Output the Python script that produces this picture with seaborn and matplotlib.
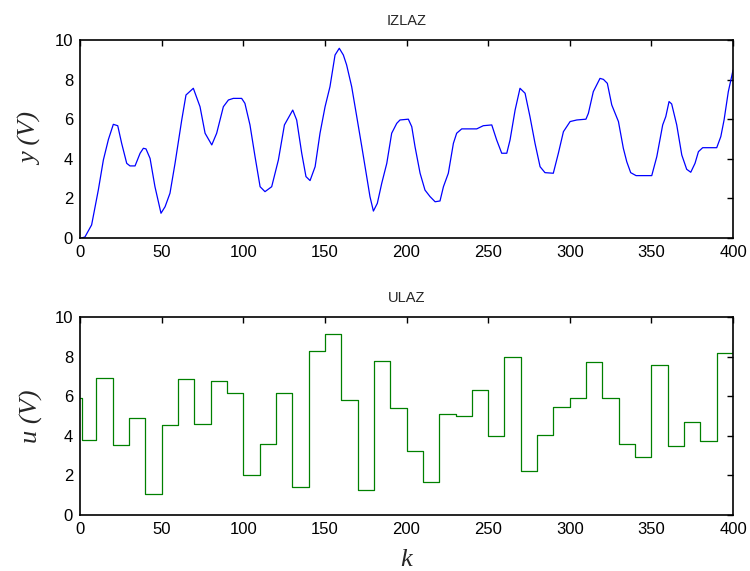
import numpy as np
import pandas as pd
import matplotlib
matplotlib.use("Agg")
import matplotlib.pyplot as plt
import seaborn as sns

# output y(k) at a set of sample instants
k_out = [1, 3, 7.1, 11.2, 14.3, 17.4, 20.4, 23.1, 25.5, 28.6, 30.6, 33.7, 36.8, 38.8, 40.4,
         42.9, 45.9, 49.6, 52.1, 55.1, 58.2, 62.3, 64.9, 69.4, 73.5, 76.6, 80.7, 83.7, 87.8,
         90.9, 93.9, 99, 101, 104.1, 107.2, 110.3, 113.3, 117.4, 121.5, 125.2, 130.3, 132.7,
         135.8, 138.4, 140.9, 144, 147, 150.1, 153.1, 156.2, 158.8, 161.3, 163.3, 166.4, 169.5,
         172.6, 175.6, 177.6, 179.7, 182.1, 184.8, 187.9, 190.9, 194, 196, 201.1, 203.2, 205.2,
         208.3, 211.3, 214.4, 217.5, 220.5, 222.6, 225.6, 228.7, 230.7, 233.8, 243, 247, 252.2,
         255.2, 258.3, 261.4, 263.4, 266.5, 269.5, 272.6, 275.6, 278.7, 281.8, 284.8, 289.9,
         293, 296.1, 300.2, 304.3, 309.9, 311.4, 314.4, 318.5, 320.6, 323, 325.7, 329.8, 332.8,
         334.9, 337.3, 340.6, 350.2, 353.3, 356.9, 358.8, 360.8, 362.4, 365.5, 368.6, 371.6,
         374.1, 376.7, 378.8, 381.4, 390, 392.5, 394.5, 397.1, 400]
y_out = [0.0, 0.05, 0.66, 2.42, 3.94, 4.98, 5.74, 5.67, 4.78, 3.77, 3.64, 3.64, 4.28, 4.53, 4.50,
         4.02, 2.59, 1.25, 1.58, 2.26, 3.77, 5.96, 7.22, 7.56, 6.63, 5.29, 4.70, 5.29, 6.63,
         6.97, 7.05, 7.05, 6.80, 5.71, 4.11, 2.59, 2.34, 2.59, 3.94, 5.71, 6.46, 5.96,
         4.28, 3.10, 2.90, 3.60, 5.29, 6.63, 7.64, 9.24, 9.58, 9.24, 8.74, 7.64, 6.13,
         4.61, 3.10, 2.09, 1.36, 1.75, 2.76, 3.77, 5.29, 5.79, 5.96, 6.00, 5.62, 4.61,
         3.27, 2.42, 2.09, 1.83, 1.87, 2.59, 3.27, 4.78, 5.29, 5.51, 5.51, 5.67, 5.71,
         4.95, 4.28, 4.28, 4.95, 6.46, 7.56, 7.31, 6.13, 4.78, 3.60, 3.30, 3.27,
         4.28, 5.37, 5.88, 5.96, 6.00, 6.30, 7.39, 8.06, 8.01, 7.81, 6.72, 5.88, 4.53,
         3.85, 3.30, 3.15, 3.15, 4.11, 5.71, 6.13, 6.89, 6.77, 5.71, 4.19, 3.47,
         3.32, 3.77, 4.36, 4.56, 4.56, 5.12, 5.96, 7.39, 8.48]

# input u(k): held constant over blocks of 10 samples
u_start = 5.9
u_levels = [3.80, 6.94, 3.52, 4.92, 1.04, 4.55, 6.89, 4.61, 6.75, 6.18,
            2.03, 3.57, 6.18, 1.40, 8.28, 9.12, 5.82, 1.25, 7.78, 5.40,
            3.22, 1.67, 5.12, 4.98, 6.31, 3.99, 8.00, 2.24, 4.06, 5.47,
            5.89, 7.73, 5.89, 3.57, 2.95, 7.58, 3.50, 4.70, 3.72, 8.17]
u_end = 8.7

u = np.repeat(u_levels, 10)
u[0] = u_start
u = np.append(u, u_end)
df_in = pd.DataFrame({"k": np.arange(len(u)), "u": u})
df_out = pd.DataFrame({"k": k_out, "y": y_out})

sns.set_style("white")
plt.rcParams["font.family"] = ["Liberation Sans", "DejaVu Sans"]
plt.rcParams["xtick.direction"] = "in"
plt.rcParams["ytick.direction"] = "in"

fig = plt.figure(figsize=(7.5, 5.71), dpi=100)
ax1 = fig.add_axes([0.1067, 0.5832, 0.8707, 0.3468])
ax2 = fig.add_axes([0.1067, 0.0981, 0.8707, 0.3468])

sns.lineplot(data=df_out, x="k", y="y", ax=ax1, color=(0, 0, 1), linewidth=0.9)
sns.lineplot(data=df_in, x="k", y="u", ax=ax2, color=(0, 0.5, 0), linewidth=0.9,
             drawstyle="steps-post")

lab_font = dict(family="Liberation Serif", style="italic", size=19)
for ax, title, ylab in [(ax1, "IZLAZ", "y (V)"), (ax2, "ULAZ", "u (V)")]:
    ax.set_xlim(0, 400)
    ax.set_ylim(0, 10)
    ax.set_xticks(range(0, 401, 50))
    ax.set_yticks(range(0, 11, 2))
    ax.tick_params(labelsize=12, length=4, width=1, top=True, right=True,
                   colors="black", pad=5)
    for s in ax.spines.values():
        s.set_visible(True)
        s.set_linewidth(1.2)
        s.set_color("black")
    ax.set_title(title, fontsize=10.5, pad=11)
    ax.set_ylabel(ylab, fontdict=lab_font, labelpad=8)
    ax.set_xlabel("")

ax2.set_xlabel("k", fontdict=lab_font, labelpad=9)

plt.savefig("out.png", dpi=100)
plt.close()
